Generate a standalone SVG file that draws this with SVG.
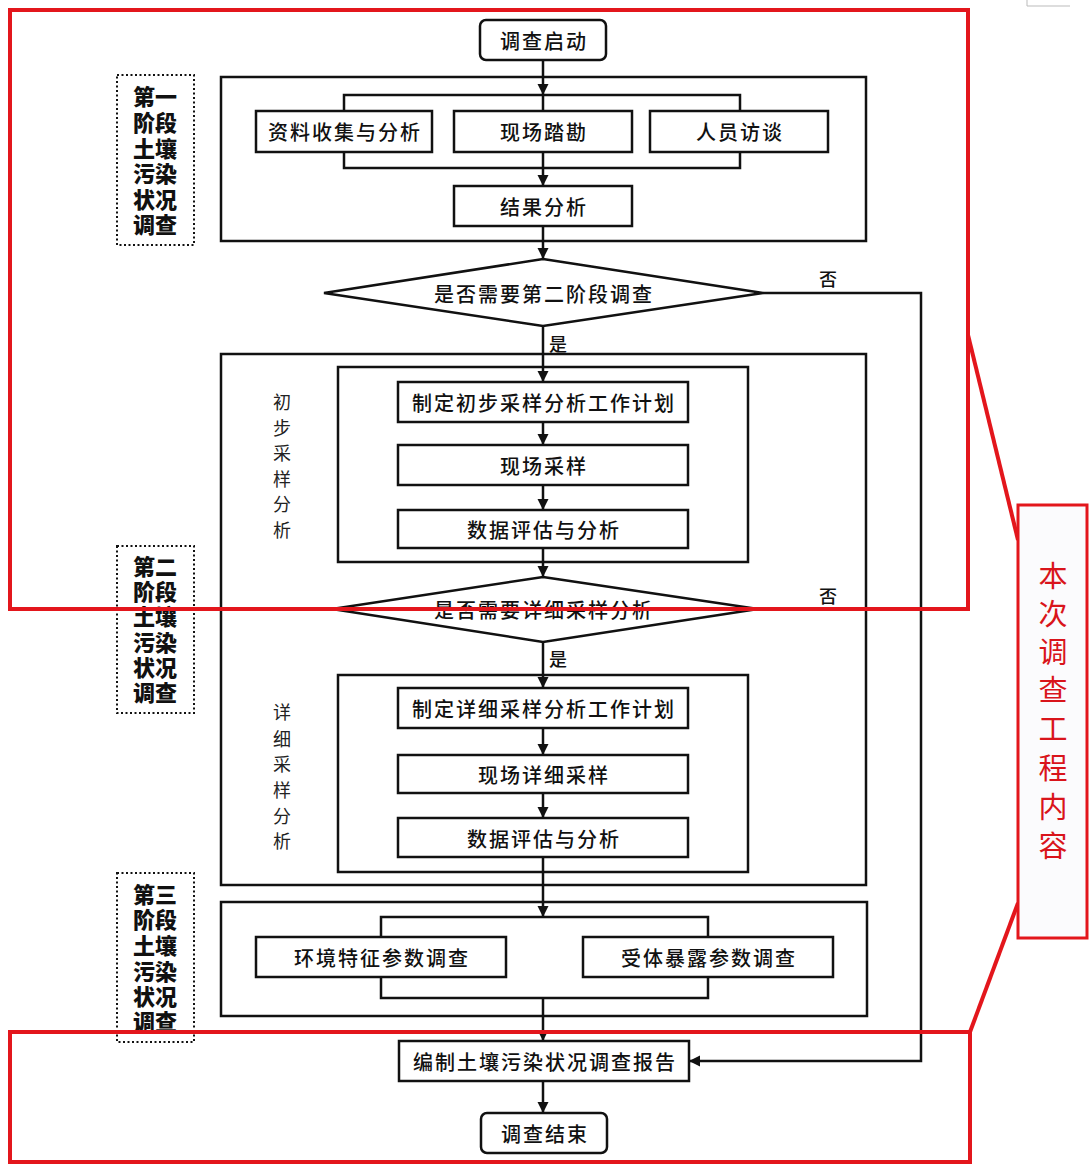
<svg xmlns="http://www.w3.org/2000/svg" width="1089" height="1164" viewBox="0 0 1089 1164">
  <style>
    .box { fill: #fff; stroke: #111; stroke-width: 2.5; }
    .frame { fill: none; stroke: #111; stroke-width: 2.5; }
    .tag { fill: #fff; stroke: #111; stroke-width: 2; stroke-dasharray: 2 2.5; }
    .link { fill: none; stroke: #111; stroke-width: 2.5; }
    .txt { font-family: "Noto Sans CJK SC", "Liberation Sans", sans-serif; font-size: 20px; font-weight: 500; fill: #111; letter-spacing: 2px; text-anchor: middle; dominant-baseline: central; }
    .stage { font-family: "Liberation Sans", "Noto Sans CJK SC", sans-serif; font-size: 22px; font-weight: 900; fill: #111; text-anchor: middle; dominant-baseline: central; }
    .side { font-family: "Liberation Sans", "Noto Sans CJK SC", sans-serif; font-size: 18px; font-weight: 400; fill: #222; text-anchor: middle; dominant-baseline: central; }
    .lbl { font-family: "Noto Sans CJK SC", sans-serif; font-size: 18px; font-weight: 500; fill: #111; text-anchor: middle; dominant-baseline: central; }
    .scope { fill: none; stroke: #e3161c; stroke-width: 4; }
    .note { font-family: "Liberation Sans", "Noto Sans CJK SC", sans-serif; font-size: 29px; font-weight: 400; fill: #d9141b; text-anchor: middle; dominant-baseline: central; }
  </style>
  <defs>
    <marker id="arrow" markerUnits="userSpaceOnUse" markerWidth="12" markerHeight="12" refX="11" refY="6" orient="auto">
      <path d="M0,0.5 L11,6 L0,11.5 z" fill="#111"/>
    </marker>
  </defs>

  <rect width="1089" height="1164" fill="#fff"/>
  <path d="M1027,0 V6 H1070" fill="none" stroke="#bbb" stroke-width="1"/>

  <!-- stage tags -->
  <g id="stage1-tag">
    <rect class="tag" x="117" y="75" width="77" height="170"/>
    <text class="stage" x="155" y="97">第一</text>
    <text class="stage" x="155" y="123">阶段</text>
    <text class="stage" x="155" y="149">土壤</text>
    <text class="stage" x="155" y="174">污染</text>
    <text class="stage" x="155" y="200">状况</text>
    <text class="stage" x="155" y="225">调查</text>
  </g>
  <g id="stage2-tag">
    <rect class="tag" x="117" y="546" width="77" height="167"/>
    <text class="stage" x="155" y="567">第二</text>
    <text class="stage" x="155" y="592">阶段</text>
    <text class="stage" x="155" y="617">土壤</text>
    <text class="stage" x="155" y="643">污染</text>
    <text class="stage" x="155" y="668">状况</text>
    <text class="stage" x="155" y="693">调查</text>
  </g>
  <g id="stage3-tag">
    <rect class="tag" x="117" y="873" width="77" height="169"/>
    <text class="stage" x="155" y="895">第三</text>
    <text class="stage" x="155" y="920">阶段</text>
    <text class="stage" x="155" y="946">土壤</text>
    <text class="stage" x="155" y="972">污染</text>
    <text class="stage" x="155" y="997">状况</text>
    <text class="stage" x="155" y="1022">调查</text>
  </g>

  <!-- stage frames -->
  <g id="stage1-frame">
    <rect class="frame" x="221" y="77" width="645" height="164"/>
  </g>
  <g id="stage2-frame">
    <rect class="frame" x="221" y="354" width="645" height="531"/>
    <rect class="frame" x="338" y="367" width="410" height="195"/>
    <rect class="frame" x="338" y="675" width="410" height="197"/>
    <g id="prelim-label">
      <text class="side" x="282" y="403">初</text>
      <text class="side" x="282" y="429">步</text>
      <text class="side" x="282" y="454">采</text>
      <text class="side" x="282" y="480">样</text>
      <text class="side" x="282" y="505">分</text>
      <text class="side" x="282" y="531">析</text>
    </g>
    <g id="detail-label">
      <text class="side" x="282" y="713">详</text>
      <text class="side" x="282" y="740">细</text>
      <text class="side" x="282" y="765">采</text>
      <text class="side" x="282" y="791">样</text>
      <text class="side" x="282" y="817">分</text>
      <text class="side" x="282" y="842">析</text>
    </g>
  </g>
  <g id="stage3-frame">
    <rect class="frame" x="221" y="902" width="646" height="114"/>
  </g>

  <!-- connectors -->
  <g id="connectors">
    <path class="link" d="M344,111 V95 H740 V111"/>
    <path class="link" d="M344,152 V168 H740 V152"/>
    <path class="link" d="M381,937 V917 H708 V937"/>
    <path class="link" d="M381,977 V998 H708 V977"/>
    <path class="link" d="M543,60 V95" marker-end="url(#arrow)"/>
    <path class="link" d="M543,95 V111"/>
    <path class="link" d="M543,152 V168"/>
    <path class="link" d="M543,168 V186" marker-end="url(#arrow)"/>
    <path class="link" d="M543,226 V259" marker-end="url(#arrow)"/>
    <path class="link" d="M543,326 V382" marker-end="url(#arrow)"/>
    <path class="link" d="M543,422 V445" marker-end="url(#arrow)"/>
    <path class="link" d="M543,485 V510" marker-end="url(#arrow)"/>
    <path class="link" d="M543,548 V577" marker-end="url(#arrow)"/>
    <path class="link" d="M543,642 V688" marker-end="url(#arrow)"/>
    <path class="link" d="M543,728 V755" marker-end="url(#arrow)"/>
    <path class="link" d="M543,793 V818" marker-end="url(#arrow)"/>
    <path class="link" d="M543,857 V917" marker-end="url(#arrow)"/>
    <path class="link" d="M543,998 V1041" marker-end="url(#arrow)"/>
    <path class="link" d="M543,1081 V1113" marker-end="url(#arrow)"/>
    <path class="link" d="M763,293 H921 V1061 H689" marker-end="url(#arrow)"/>
    <path class="link" d="M758,609 H921"/>
    <text class="lbl" x="828" y="278">否</text>
    <text class="lbl" x="558" y="343">是</text>
    <text class="lbl" x="828" y="595">否</text>
    <text class="lbl" x="558" y="658">是</text>
  </g>

  <!-- nodes -->
  <g id="start">
    <rect class="box" x="480" y="20" width="126" height="40" rx="6"/>
    <text class="txt" x="544" y="40">调查启动</text>
  </g>
  <g id="data-collection">
    <rect class="box" x="256" y="111" width="176" height="41"/>
    <text class="txt" x="345" y="131">资料收集与分析</text>
  </g>
  <g id="site-survey">
    <rect class="box" x="454" y="111" width="178" height="41"/>
    <text class="txt" x="544" y="131">现场踏勘</text>
  </g>
  <g id="interview">
    <rect class="box" x="650" y="111" width="178" height="41"/>
    <text class="txt" x="740" y="131">人员访谈</text>
  </g>
  <g id="result-analysis">
    <rect class="box" x="454" y="186" width="178" height="40"/>
    <text class="txt" x="544" y="206">结果分析</text>
  </g>
  <g id="decision-stage2">
    <polygon class="box" points="543,259 763,293 543,326 324,293"/>
    <text class="txt" x="544" y="293">是否需要第二阶段调查</text>
  </g>
  <g id="prelim-plan">
    <rect class="box" x="398" y="382" width="290" height="40"/>
    <text class="txt" x="544" y="402">制定初步采样分析工作计划</text>
  </g>
  <g id="prelim-sampling">
    <rect class="box" x="398" y="445" width="290" height="40"/>
    <text class="txt" x="544" y="465">现场采样</text>
  </g>
  <g id="prelim-evaluation">
    <rect class="box" x="398" y="510" width="290" height="38"/>
    <text class="txt" x="544" y="529">数据评估与分析</text>
  </g>
  <g id="decision-detail">
    <polygon class="box" points="543,577 758,609 543,642 332,609"/>
    <text class="txt" x="544" y="609">是否需要详细采样分析</text>
  </g>
  <g id="detail-plan">
    <rect class="box" x="398" y="688" width="290" height="40"/>
    <text class="txt" x="544" y="708">制定详细采样分析工作计划</text>
  </g>
  <g id="detail-sampling">
    <rect class="box" x="398" y="755" width="290" height="38"/>
    <text class="txt" x="544" y="774">现场详细采样</text>
  </g>
  <g id="detail-evaluation">
    <rect class="box" x="398" y="818" width="290" height="39"/>
    <text class="txt" x="544" y="838">数据评估与分析</text>
  </g>
  <g id="env-params">
    <rect class="box" x="256" y="937" width="250" height="40"/>
    <text class="txt" x="382" y="957">环境特征参数调查</text>
  </g>
  <g id="exposure-params">
    <rect class="box" x="583" y="937" width="250" height="40"/>
    <text class="txt" x="709" y="957">受体暴露参数调查</text>
  </g>
  <g id="report">
    <rect class="box" x="399" y="1041" width="290" height="40"/>
    <text class="txt" x="545" y="1061">编制土壤污染状况调查报告</text>
  </g>
  <g id="end">
    <rect class="box" x="481" y="1113" width="126" height="40" rx="6"/>
    <text class="txt" x="545" y="1133">调查结束</text>
  </g>

  <!-- scope highlight -->
  <g id="scope">
    <rect class="scope" x="10" y="10" width="958" height="599"/>
    <rect class="scope" x="10" y="1032" width="960" height="130"/>
    <path class="scope" d="M968,335 L1018,540"/>
    <path class="scope" d="M970,1032 L1018,903"/>
    <rect x="1018" y="505" width="69" height="433" fill="#fbfbfd" stroke="#e3161c" stroke-width="3"/>
    <text class="note" x="1053" y="577">本</text>
    <text class="note" x="1053" y="615">次</text>
    <text class="note" x="1053" y="653">调</text>
    <text class="note" x="1053" y="691">查</text>
    <text class="note" x="1053" y="730">工</text>
    <text class="note" x="1053" y="769">程</text>
    <text class="note" x="1053" y="808">内</text>
    <text class="note" x="1053" y="847">容</text>
  </g>
</svg>
